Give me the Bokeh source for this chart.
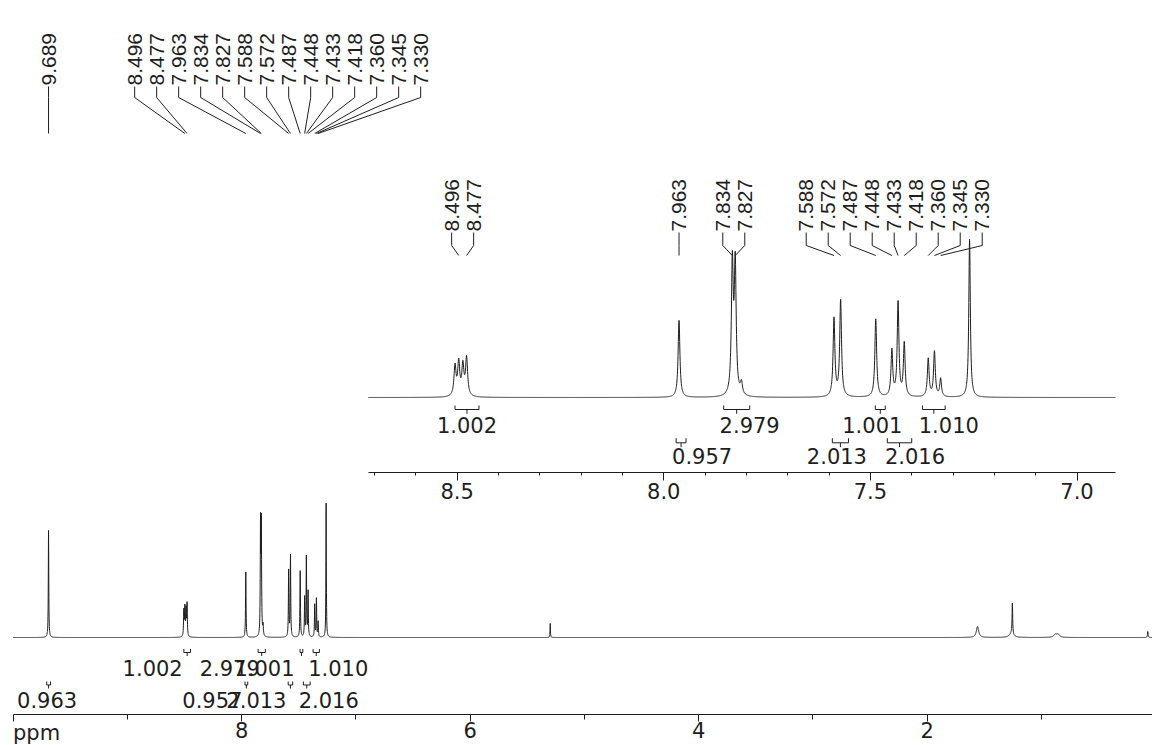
import numpy as np
from bokeh.plotting import figure
from bokeh.models import (Range1d, LinearAxis, FixedTicker, PrintfTickFormatter,
                          CustomJSTickFormatter)
from bokeh.embed import file_html
from bokeh.resources import INLINE
from bokeh.core.properties import value

# ---------------- data ----------------
# resonance lines: position (ppm), height (intensity units), half width (ppm)
line_ppm = [9.689, 8.505, 8.496, 8.486, 8.477, 7.963, 7.834, 7.827, 7.812,
            7.588, 7.572, 7.487, 7.448, 7.433, 7.418, 7.360, 7.345, 7.330,
            7.260, 5.299, 1.560, 1.255, 1.262, 0.880, 0.855, 0.070]
line_height = [126, 30, 33, 30, 38, 77, 130, 129, 12,
               78, 96, 78, 46, 94, 53, 38, 45, 18,
               158, 16.5, 13, 36, 5, 3.5, 3.5, 7]
line_hwhm = [0.0024, 0.003, 0.003, 0.003, 0.003, 0.0026, 0.0027, 0.0027, 0.003,
             0.0026, 0.0026, 0.0026, 0.0025, 0.0025, 0.0025, 0.0025, 0.0025, 0.0025,
             0.0022, 0.002, 0.012, 0.003, 0.02, 0.015, 0.015, 0.003]

main_peak_labels = [[9.689],
                    [8.496, 8.477, 7.963, 7.834, 7.827, 7.588, 7.572, 7.487,
                     7.448, 7.433, 7.418, 7.360, 7.345, 7.330]]
inset_peak_labels = [[8.496, 8.477], [7.963], [7.834, 7.827],
                     [7.588, 7.572, 7.487, 7.448, 7.433, 7.418, 7.360, 7.345, 7.330]]

integral_text = ["0.963", "1.002", "0.957", "2.979", "2.013", "1.001", "2.016", "1.010"]
integral_from = [9.705, 8.505, 7.970, 7.855, 7.592, 7.488, 7.459, 7.374]
integral_to = [9.672, 8.447, 7.946, 7.792, 7.553, 7.464, 7.400, 7.319]
integral_row = [2, 1, 2, 1, 2, 1, 2, 1]

main_ticks = [10, 8, 6, 4, 2, 0]
main_minor = [9, 7, 5, 3, 1]
inset_ticks = [8.5, 8.0, 7.5, 7.0]
inset_minor = [8.7, 8.6, 8.4, 8.3, 8.2, 8.1, 7.9, 7.8, 7.7, 7.6, 7.4, 7.3, 7.2, 7.1]

# ---------------- layout ----------------
W, H = 1152, 745
INK = "#1e1e1e"
MAIN_X = (10.1094, 0.0289)
INSET_X = (9.6047, 6.8174)
MAIN_Y = (-127.06, 749.4)
INSET_Y = (-348.0, 397.0)
PX_Y = (H, 0)                      # pixel rows from the top of the canvas
MAIN_SPAN = (10.0, MAIN_X[1])
INSET_SPAN = (8.715, 6.907)
main_scale = W / (MAIN_X[0] - MAIN_X[1])
inset_scale = W / (INSET_X[0] - INSET_X[1])

main_shift = [-1.5, -34.5, -34, -32, -34, -37, 22, 22]
inset_shift = [0, 0, 21, 13, -3.5, -8, 15.5, 15]
main_rows = {1: (648.5, 652, 655.5, 667.5), 2: (681, 684.5, 688, 699.5)}
inset_rows = {1: (405, 409, 413.3, 424), 2: (437.7, 442.3, 446.7, 455.5)}

TXT = value("DejaVu Sans")
LBL = value("Liberation Sans")


def spectrum(a, b, step):
    x = np.arange(b, a, step)
    extra = [v for v in line_ppm if b <= v <= a]
    x = np.sort(np.concatenate([x, extra]))[::-1]
    y = np.zeros_like(x)
    for pos, h, w in zip(line_ppm, line_height, line_hwhm):
        y += h / (1.0 + ((x - pos) / w) ** 2)
    return x, y


p = figure(width=W, height=H, x_range=Range1d(*MAIN_X), y_range=Range1d(*MAIN_Y),
           output_backend="svg", toolbar_location=None, min_border=0,
           x_axis_type=None, y_axis_type=None)
p.outline_line_color = None
p.background_fill_color = "white"
p.border_fill_color = "white"
p.extra_x_ranges = {"inset": Range1d(*INSET_X)}
p.extra_y_ranges = {"inset": Range1d(*INSET_Y), "px": Range1d(*PX_Y)}

# spectra
xm, ym = spectrum(MAIN_SPAN[0], MAIN_SPAN[1], 0.001)
p.line(xm, ym, line_color=INK, line_width=1)
xi, yi = spectrum(INSET_SPAN[0], INSET_SPAN[1], 0.0004)
p.line(xi, yi, line_color=INK, line_width=1, x_range_name="inset", y_range_name="inset")


def spread(group, x0, scale, gap=22.0):
    px = [(x0 - v) * scale for v in group]
    c = sum(px) / len(px)
    n = len(group)
    return [x0 - (c + (i - (n - 1) / 2) * gap) / scale for i in range(n)]


def peak_labels(groups, x0, scale, y_text, y_knee, y_end, xr):
    lx, tx, xs, ys = [], [], [], []
    for g in groups:
        for v, lv in zip(g, spread(g, x0, scale)):
            lx.append(lv)
            tx.append(f"{v:.3f}")
            xs.append([lv, lv, v])
            ys.append([y_text + 1, y_knee, y_end])
    p.text(x=lx, y=[y_text] * len(lx), text=tx, angle=np.pi / 2, text_align="left",
           text_baseline="middle", text_font=LBL, text_font_size="21px",
           text_color=INK, x_range_name=xr, y_range_name="px")
    p.multi_line(xs, ys, line_color=INK, line_width=1, x_range_name=xr, y_range_name="px")


peak_labels(main_peak_labels, MAIN_X[0], main_scale, 85, 97, 133, "default")
peak_labels(inset_peak_labels, INSET_X[0], inset_scale, 231, 245, 255, "inset")


def integrals(idx, xr, scale, rows, shifts):
    xs, ys, tx, ty, tt = [], [], [], [], []
    for i in idx:
        a, b = integral_from[i], integral_to[i]
        top, mid, bot, yt = rows[integral_row[i]]
        c = (a + b) / 2
        xs += [[a, a, b, b], [c, c]]
        ys += [[top, mid, mid, top], [mid, bot]]
        tx.append(c - shifts[i] / scale)
        ty.append(yt)
        tt.append(integral_text[i])
    p.multi_line(xs, ys, line_color=INK, line_width=1, x_range_name=xr, y_range_name="px")
    p.text(x=tx, y=ty, text=tt, text_align="center", text_baseline="middle",
           text_font=TXT, text_font_size="21px", text_color=INK,
           x_range_name=xr, y_range_name="px")


integrals(range(len(integral_text)), "default", main_scale, main_rows, main_shift)
integrals([i for i in range(len(integral_text)) if integral_from[i] <= INSET_SPAN[0]],
          "inset", inset_scale, inset_rows, inset_shift)

# axes
main_axis = LinearAxis(y_range_name="px", fixed_location=714,
                       ticker=FixedTicker(ticks=main_ticks, minor_ticks=main_minor),
                       formatter=CustomJSTickFormatter(code="return tick == 10 ? '' : tick.toFixed(0);"),
                       bounds=(0, 10))
inset_axis = LinearAxis(x_range_name="inset", y_range_name="px", fixed_location=471.7,
                        ticker=FixedTicker(ticks=inset_ticks, minor_ticks=inset_minor),
                        formatter=PrintfTickFormatter(format="%.1f"),
                        bounds=(INSET_SPAN[1], INSET_SPAN[0]))
for ax, (maj, mnr, so) in ((main_axis, (7, 5, 0)), (inset_axis, (8, 3, 3))):
    ax.axis_line_color = INK
    ax.major_tick_line_color = INK
    ax.minor_tick_line_color = INK
    ax.major_tick_in = 0
    ax.minor_tick_in = 0
    ax.major_tick_out = maj
    ax.minor_tick_out = mnr
    ax.major_label_standoff = so
    ax.major_label_text_font = "DejaVu Sans"
    ax.major_label_text_font_size = "21px"
    ax.major_label_text_color = INK
    p.add_layout(ax, "below")

p.text(x=[10.0], y=[732], text=["ppm"], text_align="left", text_baseline="middle",
       text_font=TXT, text_font_size="21px", text_color=INK, y_range_name="px")

open("out.html", "w").write(file_html(p, INLINE))
